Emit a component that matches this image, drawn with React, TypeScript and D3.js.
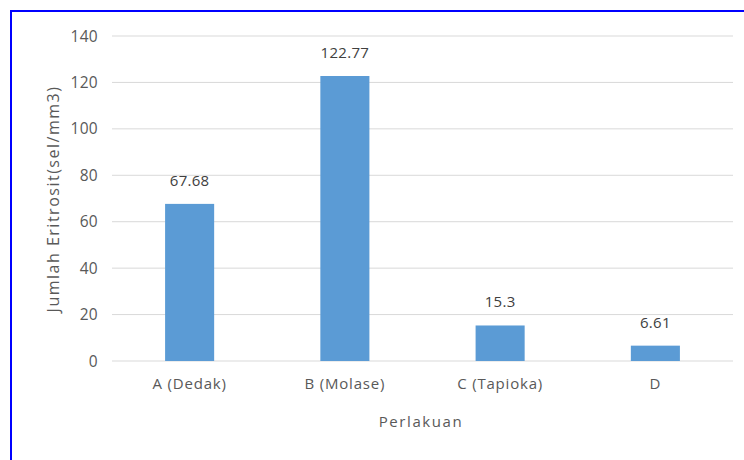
import React from "react";
import * as d3 from "d3";

const categories: string[] = ["A (Dedak)", "B (Molase)", "C (Tapioka)", "D"];
const values: number[] = [67.68, 122.77, 15.3, 6.61];
const valueLabels: string[] = ["67.68", "122.77", "15.3", "6.61"];
const yTicks: number[] = [0, 20, 40, 60, 80, 100, 120, 140];

const W = 744;
const H = 460;
const FONT = "'Open Sans', sans-serif";
const TEXT = "#595959";

export default function App() {
  const plot = { left: 112, right: 733, top: 36, bottom: 361 };
  const x = d3
    .scaleBand<string>()
    .domain(categories)
    .range([plot.left, plot.right])
    .paddingInner(0.684)
    .paddingOuter(0.342);
  const y = d3.scaleLinear().domain([0, 140]).range([plot.bottom, plot.top]);

  return (
    <div style={{ position: "absolute", left: 0, top: 0 }}>
      <svg width={W} height={H} style={{ display: "block", background: "#fff" }}>
        <rect x={0} y={0} width={W} height={H} fill="#ffffff" />
        {/* frame */}
        <line x1={10} y1={11} x2={W} y2={11} stroke="#0000ff" strokeWidth={2} />
        <line x1={11} y1={10} x2={11} y2={H} stroke="#0000ff" strokeWidth={2} />

        {/* gridlines */}
        {yTicks.map((t) => (
          <line
            key={t}
            x1={plot.left}
            x2={plot.right}
            y1={y(t)}
            y2={y(t)}
            stroke="#d9d9d9"
            strokeWidth={1}
          />
        ))}

        {/* y tick labels */}
        {yTicks.map((t) => (
          <text
            key={"yl" + t}
            x={98}
            y={y(t)}
            dy="0.36em"
            textAnchor="end"
            fontFamily={FONT}
            fontSize={15.5}
            letterSpacing={0.3}
            fill={TEXT}
          >
            {t}
          </text>
        ))}

        {/* bars */}
        {categories.map((c, i) => (
          <rect
            key={c}
            x={x(c)}
            y={y(values[i])}
            width={x.bandwidth()}
            height={y(0) - y(values[i])}
            fill="#5b9bd5"
          />
        ))}

        {/* value labels */}
        {categories.map((c, i) => (
          <text
            key={"v" + c}
            x={(x(c) ?? 0) + x.bandwidth() / 2}
            y={y(values[i]) - 18}
            textAnchor="middle"
            fontFamily={FONT}
            fontSize={15}
            letterSpacing={0.3}
            fill="#404040"
          >
            {valueLabels[i]}
          </text>
        ))}

        {/* category labels */}
        {categories.map((c) => (
          <text
            key={"c" + c}
            x={(x(c) ?? 0) + x.bandwidth() / 2}
            y={389}
            textAnchor="middle"
            fontFamily={FONT}
            fontSize={15}
            letterSpacing={0.8}
            fill={TEXT}
          >
            {c}
          </text>
        ))}

        {/* axis titles */}
        <text
          x={421}
          y={427}
          textAnchor="middle"
          fontFamily={FONT}
          fontSize={15}
          letterSpacing={1.6}
          fill={TEXT}
        >
          Perlakuan
        </text>
        <text
          transform={`translate(59, 199) rotate(-90)`}
          textAnchor="middle"
          fontFamily={FONT}
          fontSize={16}
          letterSpacing={1.5}
          fill={TEXT}
        >
          Jumlah Eritrosit(sel/mm3)
        </text>
      </svg>
    </div>
  );
}
